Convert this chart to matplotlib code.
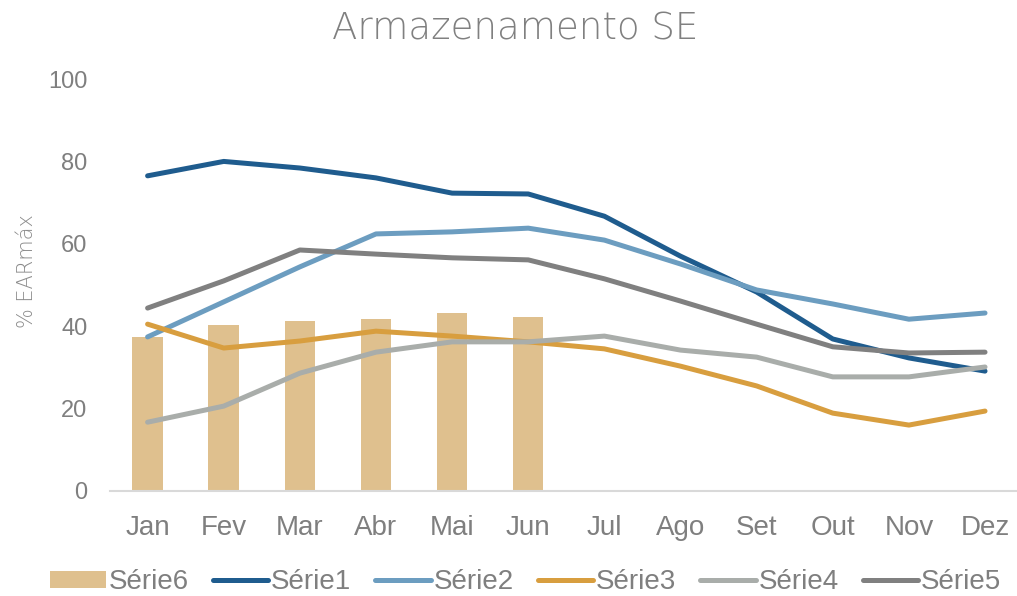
import matplotlib
matplotlib.use("Agg")
import matplotlib.pyplot as plt
from matplotlib.lines import Line2D
from matplotlib.patches import Patch

months = ["Jan", "Fev", "Mar", "Abr", "Mai", "Jun", "Jul", "Ago", "Set", "Out", "Nov", "Dez"]
serie6 = [37.4, 40.3, 41.3, 41.7, 43.2, 42.2]
serie1 = [76.5, 80.0, 78.4, 76.0, 72.3, 72.1, 66.7, 57.0, 48.3, 36.9, 32.3, 29.1]
serie2 = [37.4, 45.9, 54.4, 62.4, 62.9, 63.8, 60.9, 55.1, 48.8, 45.4, 41.7, 43.2]
serie3 = [40.5, 34.7, 36.4, 38.8, 37.6, 36.2, 34.5, 30.3, 25.5, 18.9, 16.0, 19.4]
serie4 = [16.7, 20.6, 28.6, 33.7, 36.2, 36.2, 37.6, 34.2, 32.5, 27.7, 27.7, 30.1]
serie5 = [44.4, 51.0, 58.5, 57.5, 56.6, 56.1, 51.5, 46.1, 40.5, 35.0, 33.5, 33.7]
yticks = [0, 20, 40, 60, 80, 100]

plt.rcParams['font.family'] = ['Liberation Sans', 'DejaVu Sans']

fig = plt.figure(figsize=(10.17, 5.96), dpi=100)
ax = fig.add_axes([0.1077, 0.1762, 0.8923, 0.6912])

x = list(range(len(months)))
bar_color = "#DFC08E"
colors = ["#1F5C8E", "#6C9DC0", "#D89E3F", "#A9ADAA", "#808080"]
series = [serie1, serie2, serie3, serie4, serie5]
names = ["Série1", "Série2", "Série3", "Série4", "Série5"]

ax.bar(x[:len(serie6)], serie6, width=0.4, color=bar_color, zorder=1)
for s, c in zip(series, colors):
    ax.plot(x, s, color=c, lw=3.6, solid_capstyle="round", solid_joinstyle="round", zorder=2)

ax.set_xlim(-0.5, 11.42)
ax.set_ylim(0, 100)
ax.set_xticks(x)
ax.set_xticklabels(months, fontsize=20, color="#7F7F7F")
ax.set_yticks(yticks)
ax.set_yticklabels([str(v) for v in yticks], fontsize=17, color="#7F7F7F")
ax.tick_params(axis="both", length=0)
ax.tick_params(axis="x", pad=17)
ax.tick_params(axis="y", pad=16)
for sp in ["top", "right", "left"]:
    ax.spines[sp].set_visible(False)
ax.spines["bottom"].set_color("#D9D9D9")
ax.spines["bottom"].set_linewidth(1.5)

fig.text(27 / 1017, 1 - 271 / 596, "% EARmáx", rotation=90, ha="center", va="center",
         fontsize=15, color="#8C8C8C", family=["DejaVu Sans"], fontweight="light")
fig.text(515 / 1017, 1 - 28 / 596, "Armazenamento SE", ha="center", va="center", fontsize=26.7,
         color="#808080", family=["DejaVu Sans"], fontweight="light")

handles = [Patch(facecolor=bar_color, edgecolor="none")] + [
    Line2D([0], [0], color=c, lw=3.6, solid_capstyle="round") for c in colors]
labels = ["Série6"] + names
leg = fig.legend(handles, labels, loc="center", bbox_to_anchor=(0.517, 1 - 582 / 596), ncol=6,
                 frameon=False, fontsize=20, handlelength=2.0, handleheight=0.55,
                 handletextpad=0.1, columnspacing=0.86, labelcolor="#7F7F7F")

fig.savefig("out.png", dpi=100)
